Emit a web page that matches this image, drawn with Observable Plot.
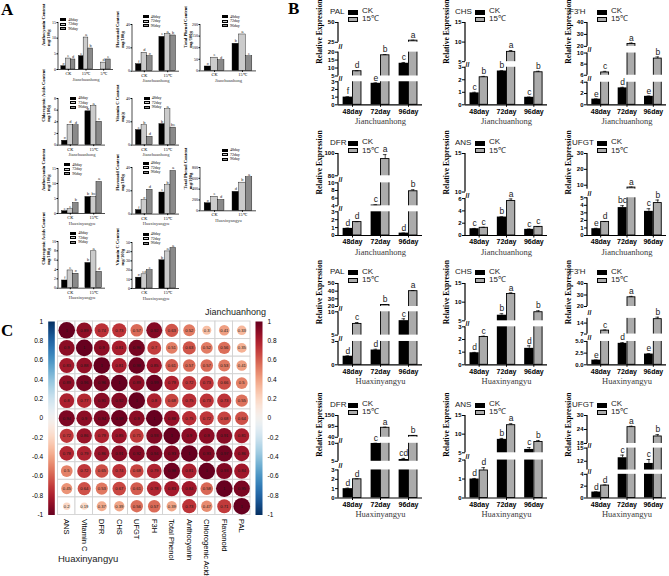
<!DOCTYPE html>
<html><head><meta charset="utf-8">
<script src="https://cdn.jsdelivr.net/npm/d3@7"></script>
<script src="https://cdn.jsdelivr.net/npm/@observablehq/plot@0.6"></script>
<style>
body{margin:0;background:#fff;}
#root{position:relative;width:669px;height:576px;overflow:hidden;background:#fff;font-family:Arial,"Liberation Sans",sans-serif;}
#root svg{position:absolute;}
.t{position:absolute;white-space:nowrap;line-height:1;}
</style></head><body><div id="root"></div>
<script>
const SANS = "Arial, 'Liberation Sans', Helvetica, sans-serif";
const SERIF = "'Times New Roman', 'Liberation Serif', serif";
const NARROW = "'Liberation Sans Narrow', 'Arial Narrow', Arial, 'Liberation Sans', sans-serif";

// ================= DATA =================
const days = ["48day", "72day", "96day"];
const treatments = ["CK", "15℃"];

// ---- Panel B: relative expression (CK, 15℃) ----
const PAL_J_CK = [1.0, 2.8, 13.0],  PAL_J_15 = [8.0, 18.0, 27.0];
const PAL_J_CKE = [0.05, 0.06, 0.5], PAL_J_15E = [0.3, 0.5, 0.6];
const PAL_J_CKL = ["f", "e", "c"],  PAL_J_15L = ["d", "b", "a"];

const CHS_J_CK = [0.95, 2.7, 0.6],  CHS_J_15 = [2.2, 7.5, 2.6];
const CHS_J_CKE = [0.05, 0.03, 0.02], CHS_J_15E = [0.07, 0.35, 0.08];
const CHS_J_CKL = ["c", "b", "c"],  CHS_J_15L = ["b", "a", "b"];

const F3H_J_CK = [1.0, 3.0, 1.5],   F3H_J_15 = [6.5, 22, 9.0];
const F3H_J_CKE = [0.05, 0.1, 0.05], F3H_J_15E = [0.2, 0.8, 0.3];
const F3H_J_CKL = ["e", "d", "e"],  F3H_J_15L = ["c", "a", "b"];

const DFR_J_CK = [0.9, 4.2, 0.3],   DFR_J_15 = [1.7, 95, 7.8];
const DFR_J_CKE = [0.03, 0.1, 0.02], DFR_J_15E = [0.05, 4, 0.4];
const DFR_J_CKL = ["d", "c", "d"],  DFR_J_15L = ["d", "a", "b"];

const ANS_J_CK = [1.1, 3.0, 1.0],   ANS_J_15 = [1.25, 5.6, 1.4];
const ANS_J_CKE = [0.05, 0.05, 0.05], ANS_J_15E = [0.08, 0.35, 0.05];
const ANS_J_CKL = ["c", "b", "c"],  ANS_J_15L = ["c", "a", "c"];

const UFGT_J_CK = [0.9, 3.7, 3.2],  UFGT_J_15 = [1.8, 8.5, 4.3];
const UFGT_J_CKE = [0.05, 0.25, 0.35], UFGT_J_15E = [0.05, 0.3, 0.4];
const UFGT_J_CKL = ["e", "bc", "c"], UFGT_J_15L = ["d", "a", "b"];

const PAL_H_CK = [1.1, 1.9, 8.1],   PAL_H_15 = [7.4, 22, 40];
const PAL_H_CKE = [0.05, 0.1, 0.4], PAL_H_15E = [0.3, 0.5, 0.8];
const PAL_H_CKL = ["d", "d", "c"],  PAL_H_15L = ["c", "b", "a"];

const CHS_H_CK = [0.95, 6.5, 1.3],  CHS_H_15 = [2.2, 12.2, 7.3];
const CHS_H_CKE = [0.03, 0.4, 0.2], CHS_H_15E = [0.06, 0.3, 0.4];
const CHS_H_CKL = ["d", "b", "d"],  CHS_H_15L = ["c", "a", "b"];

const F3H_H_CK = [1.0, 4.6, 2.3],   F3H_H_15 = [9.2, 28, 16.5];
const F3H_H_CKE = [0.05, 0.15, 0.1], F3H_H_15E = [0.4, 0.8, 0.8];
const F3H_H_CKL = ["e", "d", "e"],  F3H_H_15L = ["c", "a", "b"];

const DFR_H_CK = [1.0, 10, 5.5],    DFR_H_15 = [2.0, 88, 47];
const DFR_H_CKE = [0.05, 0.3, 0.3], DFR_H_15E = [0.05, 3, 2];
const DFR_H_CKL = ["d", "c", "cd"], DFR_H_15L = ["d", "a", "b"];

const ANS_H_CK = [1.0, 8.6, 5.9],   ANS_H_15 = [1.45, 12.4, 7.9];
const ANS_H_CKE = [0.03, 0.25, 0.5], ANS_H_15E = [0.15, 0.4, 0.4];
const ANS_H_CKL = ["d", "b", "c"],  ANS_H_15L = ["d", "a", "b"];

const UFGT_H_CK = [1.0, 12.8, 11.5], UFGT_H_15 = [2.1, 25, 21];
const UFGT_H_CKE = [0.05, 0.6, 0.9], UFGT_H_15E = [0.1, 0.4, 0.8];
const UFGT_H_CKL = ["d", "c", "c"],  UFGT_H_15L = ["d", "a", "b"];

// broken-axis segments and tick labels
const PAL_J_SEGS = [[0, 3], [5, 20], [25, 50]],   PAL_J_TICKS = [0, 1, 2, 3, 5, 10, 15, 20, 25, 50];
const CHS_J_SEGS = [[0, 3], [5, 15]],             CHS_J_TICKS = [0, 1, 2, 3, 5, 10, 15];
const F3H_J_SEGS = [[0, 4], [6, 10], [20, 40]],   F3H_J_TICKS = [0, 2, 4, 6, 8, 10, 20, 30, 40];
const DFR_J_SEGS = [[0, 3], [4, 10], [80, 100]],  DFR_J_TICKS = [0, 1, 2, 3, 4, 6, 8, 10, 80, 100];
const ANS_J_SEGS = [[0, 6], [10, 15]],            ANS_J_TICKS = [0, 2, 4, 6, 10, 15];
const UFGT_J_SEGS = [[0, 5], [7.5, 30]],          UFGT_J_TICKS = [0, 1, 2, 3, 4, 5, 10, 20, 30];
const PAL_H_SEGS = [[0, 3], [5, 10], [20, 50]],   PAL_H_TICKS = [0, 3, 5, 10, 20, 30, 40, 50];
const CHS_H_SEGS = [[0, 3], [5, 15]],             CHS_H_TICKS = [0, 1, 2, 3, 5, 10, 15];
const F3H_H_SEGS = [[0, 5], [7, 17], [20, 40]],   F3H_H_TICKS = [0, 2.5, 5, 7, 14, 20, 30, 40];
const DFR_H_SEGS = [[0, 3], [5, 10], [40, 150]],  DFR_H_TICKS = [0, 1, 2, 3, 5, 10, 40, 95, 150];
const ANS_H_SEGS = [[0, 2], [5, 15]],             ANS_H_TICKS = [0, 1, 2, 5, 10, 15];
const UFGT_H_SEGS = [[0, 4], [10, 15], [18, 30]], UFGT_H_TICKS = [0, 2, 4, 12, 15, 18, 24, 30];

// ---- Panel A: contents (groups x 48/72/96 day) ----
const A_ANTH_J = {groups: ["CK", "15℃", "5℃"], d48: [1.05, 4.25, 0], d72: [3.5, 10.2, 2.2], d96: [3.2, 6.7, 3.2],
  l48: ["e", "c", ""], l72: ["c", "a", "d"], l96: ["d", "b", "c"]};
const A_FLAV_J = {groups: ["CK", "15℃"], d48: [6, 29.4], d72: [15.7, 31.8], d96: [12.9, 30.6],
  l48: ["f", "c"], l72: ["d", "a"], l96: ["e", "b"]};
const A_PHEN_J = {groups: ["CK", "15℃"], d48: [19, 117], d72: [57, 157], d96: [46, 63],
  l48: ["e", "b"], l72: ["c", "a"], l96: ["d", "c"]};
const A_CHLO_J = {groups: ["CK", "15℃"], d48: [0.75, 5.8], d72: [3.45, 6.7], d96: [3.4, 4.0],
  l48: ["e", "b"], l72: ["d", "a"], l96: ["d", "c"]};
const A_VITC_J = {groups: ["CK", "15℃"], d48: [12.9, 18], d72: [17, 30.8], d96: [7.1, 15],
  l48: ["c", "b"], l72: ["b", "a"], l96: ["d", "bc"]};
const A_ANTH_H = {groups: ["CK", "15℃"], d48: [0.77, 5.5], d72: [1.43, 5.5], d96: [3.5, 10.5],
  l48: ["c", "b"], l72: ["c", "bc"], l96: ["b", "a"]};
const A_FLAV_H = {groups: ["CK", "15℃"], d48: [3.4, 18.5], d72: [12, 24.8], d96: [20.8, 37],
  l48: ["f", "c"], l72: ["e", "b"], l96: ["d", "a"]};
const A_PHEN_H = {groups: ["CK", "15℃"], d48: [140, 350], d72: [260, 520], d96: [200, 620],
  l48: ["e", "d"], l72: ["c", "b"], l96: ["d", "a"]};
const A_CHLO_H = {groups: ["CK", "15℃"], d48: [1.65, 5.4], d72: [3.8, 7.9], d96: [3.1, 3.5],
  l48: ["f", "b"], l72: ["c", "a"], l96: ["e", "d"]};
const A_VITC_H = {groups: ["CK", "15℃"], d48: [11.8, 30.7], d72: [15.4, 40.3], d96: [20, 44],
  l48: ["e", "b"], l72: ["cd", "a"], l96: ["c", "a"]};

// ---- Panel C: correlations ----
const C_VARS = ["ANS", "Vitamin C", "DFR", "CHS", "UFGT", "F3H", "Total Phenol", "Anthocyanin", "Chlorogenic Acids", "Flavonoid", "PAL"];
const CORR_1 = [1, 0.89, 0.74, 0.73, 0.57, 0.92, 0.63, 0.52, 0.3, 0.41, 0.33];
const CORR_2 = [0.9, 1, 0.9, 0.81, 0.96, 0.7, 0.51, 0.63, 0.52, 0.56, 0.35];
const CORR_3 = [0.83, 0.88, 1, 0.81, 0.98, 0.85, 0.61, 0.57, 0.57, 0.53, 0.41];
const CORR_4 = [0.89, 0.96, 0.96, 1, 0.89, 0.99, 0.79, 0.72, 0.73, 0.66, 0.5];
const CORR_5 = [0.8, 0.77, 0.91, 0.92, 1, 0.8, 0.68, 0.75, 0.73, 0.73, 0.55];
const CORR_6 = [0.94, 0.9, 0.94, 0.98, 0.9, 1, 0.88, 0.75, 0.72, 0.68, 0.64];
const CORR_7 = [0.72, 0.86, 0.79, 0.85, 0.71, 0.93, 1, 0.9, 0.9, 0.91, 0.81];
const CORR_8 = [0.78, 0.79, 0.86, 0.91, 0.92, 0.94, 0.93, 1, 0.93, 0.97, 0.86];
const CORR_9 = [0.5, 0.72, 0.65, 0.74, 0.68, 0.79, 0.98, 0.81, 1, 0.93, 0.84];
const CORR_10 = [0.45, 0.64, 0.53, 0.67, 0.61, 0.78, 0.83, 0.84, 0.58, 1, 0.95];
const CORR_11 = [0.2, 0.19, 0.37, 0.39, 0.56, 0.57, 0.39, 0.73, 0.47, 0.71, 1];
const CB_TICKS = [1, 0.8, 0.6, 0.4, 0.2, 0, -0.2, -0.4, -0.6, -0.8, -1];

// ================= LAYOUT HELPERS =================
const root = document.getElementById("root");
function put(svg, left, top) { svg.style.left = left + "px"; svg.style.top = top + "px"; root.appendChild(svg); return svg; }
function txt(s, left, top, css) {
  const d = document.createElement("div"); d.className = "t"; d.textContent = s;
  d.style.left = left + "px"; d.style.top = top + "px"; Object.assign(d.style, css || {}); root.appendChild(d); return d;
}
function box(left, top, w, h, css) {
  const d = document.createElement("div"); d.style.position = "absolute";
  Object.assign(d.style, {left: left + "px", top: top + "px", width: w + "px", height: h + "px", boxSizing: "border-box"}, css || {});
  root.appendChild(d); return d;
}
const BASESTYLE = {background: "transparent", overflow: "visible", fontFamily: SANS};

// ================= PANEL B =================
const B_COLS = [{left: 313, width: 112, gx: -8}, {left: 440, width: 110, gx: -10}, {left: 562, width: 107, gx: -18}];
const B_ROWS = [{top: 22, base: 104.3}, {top: 153.3, base: 235.3}, {top: 282.7, base: 364}, {top: 415, base: 497.5}];
const B_FRACS = {
  PAL_J: [[0, 0.28], [0.35, 0.64], [0.76, 1]], CHS_J: [[0, 0.456], [0.524, 1]], F3H_J: [[0, 0.274], [0.359, 0.629], [0.71, 1]],
  DFR_J: [[0, 0.289], [0.362, 0.642], [0.728, 1]], ANS_J: [[0, 0.45], [0.53, 1]], UFGT_J: [[0, 0.46], [0.565, 1]],
  PAL_H: [[0, 0.287], [0.365, 0.652], [0.717, 1]], CHS_H: [[0, 0.467], [0.541, 1]], F3H_H: [[0, 0.287], [0.378, 0.571], [0.717, 1]],
  DFR_H: [[0, 0.34], [0.445, 0.663], [0.736, 1]], ANS_H: [[0, 0.46], [0.548, 1]], UFGT_H: [[0, 0.287], [0.339, 0.605], [0.661, 1]]
};

function bChart(g, col, row) {
  const C = B_COLS[col], R = B_ROWS[row];
  const mt = 22, mb = 34, ml = 25, mr = 3;
  const plotH = R.base - R.top;
  const width = C.width, height = mt + plotH + mb;
  const plotW = width - ml - mr;
  const pi = 0.33, po = 0.165;
  const step = plotW / (days.length - pi + 2 * po);
  const bw = step * (1 - pi), q = bw / 4;
  const domain = g.segs.flat();
  const range = g.fracs.flat().map(f => mt + (1 - f) * plotH);
  const gaps = g.segs.slice(1).map((s, i) => [g.segs[i][1], s[0]]);
  const ck = days.map((d, i) => ({day: d, v: g.ck[i], e: g.ckE[i], L: g.ckL[i]}));
  const hot = days.map((d, i) => ({day: d, v: g.t15[i], e: g.t15E[i], L: g.t15L[i]}));
  const ymax = domain[domain.length - 1];
  const svg = Plot.plot({
    width, height, marginTop: mt, marginBottom: mb, marginLeft: ml, marginRight: mr,
    style: BASESTYLE,
    x: {type: "band", domain: days, paddingInner: pi, paddingOuter: po, round: false, label: null},
    y: {type: "linear", domain, range, label: null},
    marks: [
      Plot.rect([ymax], {y1: () => 0, y2: d => d, fill: "black", insetLeft: -0.6, insetRight: plotW - 0.6}),
      Plot.barY(ck, {x: "day", y: "v", fill: "black", insetRight: bw / 2}),
      Plot.barY(hot, {x: "day", y: "v", fill: "#ababab", stroke: "black", strokeWidth: 0.9, insetLeft: bw / 2 + 0.5, insetRight: 0.4}),
      Plot.rect(gaps, {y1: d => d[0], y2: d => d[1], fill: "white", insetLeft: -4}),
      Plot.ruleX(ck, {x: "day", y1: "v", y2: d => d.v + d.e, dx: -q, strokeWidth: 0.7}),
      Plot.ruleX(hot, {x: "day", y1: "v", y2: d => d.v + d.e, dx: q, strokeWidth: 0.7}),
      Plot.tickY(ck, {x: "day", y: d => d.v + d.e, insetLeft: q - 1.8, insetRight: 3 * q - 1.8, strokeWidth: 0.7}),
      Plot.tickY(hot, {x: "day", y: d => d.v + d.e, insetLeft: 3 * q - 1.8, insetRight: q - 1.8, strokeWidth: 0.7}),
      Plot.text(ck, {x: "day", y: d => d.v + d.e, text: "L", dx: -q, dy: -5, fontSize: 8.5, fill: "#222"}),
      Plot.text(hot, {x: "day", y: d => d.v + d.e, text: "L", dx: q, dy: -5, fontSize: 8.5, fill: "#222"}),
      Plot.ruleY([0], {strokeWidth: 1.2}),
      Plot.axisY({ticks: g.ticks, tickFormat: g.fmt || (d => String(d)), tickSize: 3, tickPadding: 1, fontSize: 6, fontWeight: "bold", label: null}),
      Plot.axisX({tickSize: 2.5, tickPadding: 1.5, fontSize: 7, fontWeight: "bold", label: null}),
      Plot.text(gaps, {y: d => (d[0] + d[1]) / 2, frameAnchor: "left", text: () => "//", fontSize: 7, fontWeight: "bold", fill: "black"}),
      Plot.text([g.title], {frameAnchor: "bottom", dy: 19, text: d => d, fontFamily: SERIF, fontSize: 8.5, fill: "#3a3a3a"}),
      Plot.text(["Relative Expression"], {frameAnchor: "left", rotate: -90, dx: -18.5, text: d => d, fontFamily: SERIF, fontWeight: "bold", fontSize: 7.6})
    ]
  });
  put(svg, C.left, R.top - mt);
  // legend
  const ax = C.left + ml;
  txt(g.gene, ax + (g.gx ?? C.gx), R.top - 14.5, {fontSize: "8px", color: "#222"});
  box(ax + 10, R.top - 12.5, 10, 5, {background: "black"});
  txt(treatments[0], ax + 24, R.top - 15, {fontSize: "8px", color: "#222"});
  box(ax + 10, R.top - 5, 10, 5, {background: "#ababab", border: "1px solid black"});
  txt(treatments[1], ax + 24, R.top - 6.8, {fontSize: "8px", color: "#222"});
}

const genes = [
  [{gene: "PAL", title: "Jianchuanhong", ck: PAL_J_CK, t15: PAL_J_15, ckE: PAL_J_CKE, t15E: PAL_J_15E, ckL: PAL_J_CKL, t15L: PAL_J_15L, segs: PAL_J_SEGS, ticks: PAL_J_TICKS, fracs: B_FRACS.PAL_J},
   {gene: "CHS", title: "Jianchuanhong", ck: CHS_J_CK, t15: CHS_J_15, ckE: CHS_J_CKE, t15E: CHS_J_15E, ckL: CHS_J_CKL, t15L: CHS_J_15L, segs: CHS_J_SEGS, ticks: CHS_J_TICKS, fracs: B_FRACS.CHS_J},
   {gene: "F3'H", title: "Jianchuanhong", ck: F3H_J_CK, t15: F3H_J_15, ckE: F3H_J_CKE, t15E: F3H_J_15E, ckL: F3H_J_CKL, t15L: F3H_J_15L, segs: F3H_J_SEGS, ticks: F3H_J_TICKS, fracs: B_FRACS.F3H_J}],
  [{gene: "DFR", title: "Jianchuanhong", ck: DFR_J_CK, t15: DFR_J_15, ckE: DFR_J_CKE, t15E: DFR_J_15E, ckL: DFR_J_CKL, t15L: DFR_J_15L, segs: DFR_J_SEGS, ticks: DFR_J_TICKS, fracs: B_FRACS.DFR_J},
   {gene: "ANS", title: "Jianchuanhong", ck: ANS_J_CK, t15: ANS_J_15, ckE: ANS_J_CKE, t15E: ANS_J_15E, ckL: ANS_J_CKL, t15L: ANS_J_15L, segs: ANS_J_SEGS, ticks: ANS_J_TICKS, fracs: B_FRACS.ANS_J},
   {gene: "UFGT", gx: -15, title: "Jianchuanhong", ck: UFGT_J_CK, t15: UFGT_J_15, ckE: UFGT_J_CKE, t15E: UFGT_J_15E, ckL: UFGT_J_CKL, t15L: UFGT_J_15L, segs: UFGT_J_SEGS, ticks: UFGT_J_TICKS, fracs: B_FRACS.UFGT_J}],
  [{gene: "PAL", title: "Huaxinyangyu", ck: PAL_H_CK, t15: PAL_H_15, ckE: PAL_H_CKE, t15E: PAL_H_15E, ckL: PAL_H_CKL, t15L: PAL_H_15L, segs: PAL_H_SEGS, ticks: PAL_H_TICKS, fracs: B_FRACS.PAL_H},
   {gene: "CHS", title: "Huaxinyangyu", ck: CHS_H_CK, t15: CHS_H_15, ckE: CHS_H_CKE, t15E: CHS_H_15E, ckL: CHS_H_CKL, t15L: CHS_H_15L, segs: CHS_H_SEGS, ticks: CHS_H_TICKS, fracs: B_FRACS.CHS_H},
   {gene: "F3'H", title: "Huaxinyangyu", ck: F3H_H_CK, t15: F3H_H_15, ckE: F3H_H_CKE, t15E: F3H_H_15E, ckL: F3H_H_CKL, t15L: F3H_H_15L, segs: F3H_H_SEGS, ticks: F3H_H_TICKS, fracs: B_FRACS.F3H_H,
    fmt: d => (d < 7 ? d3.format(".1f")(d) : String(d))}],
  [{gene: "DFR", title: "Huaxinyangyu", ck: DFR_H_CK, t15: DFR_H_15, ckE: DFR_H_CKE, t15E: DFR_H_15E, ckL: DFR_H_CKL, t15L: DFR_H_15L, segs: DFR_H_SEGS, ticks: DFR_H_TICKS, fracs: B_FRACS.DFR_H},
   {gene: "ANS", title: "Huaxinyangyu", ck: ANS_H_CK, t15: ANS_H_15, ckE: ANS_H_CKE, t15E: ANS_H_15E, ckL: ANS_H_CKL, t15L: ANS_H_15L, segs: ANS_H_SEGS, ticks: ANS_H_TICKS, fracs: B_FRACS.ANS_H},
   {gene: "UFGT", gx: -15, title: "Huaxinyangyu", ck: UFGT_H_CK, t15: UFGT_H_15, ckE: UFGT_H_CKE, t15E: UFGT_H_15E, ckL: UFGT_H_CKL, t15L: UFGT_H_15L, segs: UFGT_H_SEGS, ticks: UFGT_H_TICKS, fracs: B_FRACS.UFGT_H}]
];
genes.forEach((r, ri) => r.forEach((g, ci) => bChart(g, ci, ri)));

// ================= PANEL A =================
function aChart(a, cfg) {
  const mt = 6, mb = 16, ml = 24, mr = 2;
  const plotH = cfg.base - cfg.top, plotW = cfg.W;
  const width = ml + plotW + mr, height = mt + plotH + mb;
  const n = a.groups.length;
  const pi = cfg.pi ?? 0.29, po = cfg.po ?? 0.15;
  const step = plotW / (n - pi + 2 * po), bw = step * (1 - pi), third = bw / 3;
  const ymax = cfg.ticks[cfg.ticks.length - 1];
  const series = [{vals: a.d48, L: a.l48, fill: "black"}, {vals: a.d72, L: a.l72, fill: "#cbcbcb"}, {vals: a.d96, L: a.l96, fill: "#8a8a8a"}];
  const marks = [Plot.rect([ymax], {y1: () => 0, y2: d => d, fill: "black", insetLeft: -0.35, insetRight: plotW - 0.35})];
  series.forEach((s, k) => {
    const rows = a.groups.map((g, i) => ({g, v: s.vals[i], L: s.L[i]}));
    marks.push(Plot.barY(rows, {x: "g", y: "v", fill: s.fill, stroke: "black", strokeWidth: 0.4, insetLeft: k * third, insetRight: (2 - k) * third}));
    marks.push(Plot.text(rows, {x: "g", y: "v", text: "L", dx: (k - 1) * third, dy: -2.8, fontSize: 4, fill: "#333"}));
  });
  marks.push(
    Plot.ruleY([0], {strokeWidth: 0.7}),
    Plot.axisY({ticks: cfg.ticks, tickFormat: d => String(d), tickSize: 1.5, tickPadding: 1, fontSize: 4, fontFamily: SERIF, label: null}),
    Plot.axisX({tickSize: 1.5, tickPadding: 1, fontSize: 4.3, fontFamily: SERIF, label: null}),
    Plot.text([cfg.title], {frameAnchor: "bottom", dy: 11, text: d => d, fontFamily: SERIF, fontSize: 4.5, fill: "#333"}),
    Plot.text([cfg.ylab[0]], {frameAnchor: "left", rotate: -90, dx: -15, text: d => d, fontFamily: SERIF, fontWeight: "bold", fontSize: 4.6}),
    Plot.text([cfg.ylab[1]], {frameAnchor: "left", rotate: -90, dx: -10, text: d => d, fontFamily: SERIF, fontWeight: "bold", fontSize: 4.6})
  );
  const svg = Plot.plot({
    width, height, marginTop: mt, marginBottom: mb, marginLeft: ml, marginRight: mr, style: BASESTYLE,
    x: {type: "band", domain: a.groups, paddingInner: pi, paddingOuter: po, round: false, label: null},
    y: {domain: [0, ymax], label: null}, marks
  });
  put(svg, cfg.x0 - ml, cfg.top - mt);
  const lx = cfg.x0 + cfg.leg[0], ly = cfg.top + cfg.leg[1];
  const fills = ["black", "#cbcbcb", "#8a8a8a"];
  days.forEach((d, k) => {
    box(lx, ly + k * 4.4, 6, 3, {background: fills[k], border: "0.4px solid black"});
    txt(d, lx + 8, ly + k * 4.4 - 0.6, {fontSize: "4px", fontFamily: SERIF});
  });
}
const J = "Jianchuanhong", Hx = "Huaxinyangyu";
aChart(A_ANTH_J, {x0: 58.3, top: 22.3, base: 69.3, W: 55, pi: 0.2, po: 0.16, ticks: [0, 5, 10, 15], ylab: ["Anthocyanin Content", "mg/100g"], title: J, leg: [2, -4]});
aChart(A_FLAV_J, {x0: 131.7, top: 24.3, base: 71, W: 47, ticks: [0, 20, 40], ylab: ["Flavonoid Content", "mg/100g"], title: J, leg: [11, -9]});
aChart(A_PHEN_J, {x0: 200, top: 24.3, base: 70.7, W: 56, ticks: [0, 50, 100, 150, 200], ylab: ["Total Phenol Content", "mg/100g"], title: J, leg: [22, -9]});
aChart(A_CHLO_J, {x0: 58.3, top: 97.7, base: 144.3, W: 47, ticks: [0, 2, 4, 6, 8], ylab: ["Chlorogenic Acids Content", "mg/100g"], title: J, leg: [12, -1]});
aChart(A_VITC_J, {x0: 131.7, top: 97.7, base: 144.3, W: 47, ticks: [0, 20, 40], ylab: ["Vitamin C Content", "mg/g"], title: J, leg: [12, -1]});
aChart(A_ANTH_H, {x0: 58.3, top: 168.3, base: 213.3, W: 47, ticks: [0, 5, 10, 15], ylab: ["Anthocyanin Content", "mg/100g"], title: Hx, leg: [6, -5]});
aChart(A_FLAV_H, {x0: 131.7, top: 166.7, base: 213.3, W: 47, ticks: [0, 20, 40], ylab: ["Flavonoid Content", "mg/100g"], title: Hx, leg: [11, -5]});
aChart(A_PHEN_H, {x0: 200, top: 166.7, base: 210, W: 56, ticks: [0, 200, 400, 600, 800], ylab: ["Total Phenol Content", "mg/100g"], title: Hx, leg: [22, -18]});
aChart(A_CHLO_H, {x0: 58.3, top: 241, base: 287.7, W: 47, ticks: [0, 2, 4, 6, 8, 10], ylab: ["Chlorogenic Acids Content", "mg/100g"], title: Hx, leg: [12, -9]});
aChart(A_VITC_H, {x0: 131.7, top: 241.7, base: 287.7, W: 47, ticks: [0, 10, 20, 30, 40, 50], ylab: ["Vitamin C Content", "mg/100g"], title: Hx, leg: [11, -9]});

// ================= PANEL C =================
const corrRows = [CORR_1, CORR_2, CORR_3, CORR_4, CORR_5, CORR_6, CORR_7, CORR_8, CORR_9, CORR_10, CORR_11];
const cdata = corrRows.flatMap((row, i) => row.map((v, j) => ({row: C_VARS[i], col: C_VARS[j], v})));
put(Plot.plot({
  width: 207, height: 263, marginLeft: 7.5, marginRight: 7, marginTop: 7, marginBottom: 62.5, style: BASESTYLE,
  x: {type: "band", domain: C_VARS, padding: 0, round: false, label: null},
  y: {type: "band", domain: C_VARS, padding: 0, round: false, axis: null, label: null},
  r: {type: "sqrt", domain: [0, 1], range: [0, 8.3]},
  color: {type: "linear", domain: [-1, 1], scheme: "RdBu", reverse: true},
  marks: [
    Plot.cell(cdata, {x: "col", y: "row", fill: "white", stroke: "#d2d2d2", strokeWidth: 0.9}),
    Plot.dot(cdata, {x: "col", y: "row", r: "v", fill: "v"}),
    Plot.text(cdata, {x: "col", y: "row", text: d => String(d.v), fontSize: 4.2, fill: "#1a1a1a"}),
    Plot.axisX({anchor: "bottom", tickRotate: 90, tickSize: 0, tickPadding: 4, fontSize: 7.5, fontFamily: NARROW, label: null})
  ]
}), 50, 314);

// left colour bar (Huaxinyangyu)
put(Plot.plot({
  width: 41.3, height: 205.5, marginLeft: 32.7, marginRight: 2, marginTop: 7, marginBottom: 5, style: BASESTYLE,
  x: {domain: [0, 1], axis: null}, y: {domain: [-1, 1], label: null},
  color: {type: "linear", domain: [-1, 1], scheme: "RdBu"},
  marks: [
    Plot.raster({x1: 0, x2: 1, y1: -1, y2: 1, width: 2, height: 200, fill: (x, y) => y, imageRendering: "auto"}),
    Plot.axisY({ticks: CB_TICKS, tickFormat: d => String(d), tickSize: 0, tickPadding: 5, fontSize: 6.5, label: null})
  ]
}), 15, 314);
// right colour bar (Jianchuanhong)
put(Plot.plot({
  width: 34, height: 205.5, marginLeft: 5, marginRight: 22, marginTop: 7, marginBottom: 5, style: BASESTYLE,
  x: {domain: [0, 1], axis: null}, y: {domain: [-1, 1], label: null},
  color: {type: "linear", domain: [-1, 1], scheme: "RdBu", reverse: true},
  marks: [
    Plot.raster({x1: 0, x2: 1, y1: -1, y2: 1, width: 2, height: 200, fill: (x, y) => y, imageRendering: "auto"}),
    Plot.axisY({anchor: "right", ticks: CB_TICKS, tickFormat: d => String(d), tickSize: 0, tickPadding: 5, fontSize: 6.5, label: null})
  ]
}), 250, 314);

txt("Jianchuanhong", 205, 308, {fontSize: "9px", color: "#222"});
txt("Huaxinyangyu", 58, 553.5, {fontSize: "9.5px", color: "#222"});

// ================= PANEL LABELS =================
const PL = {fontSize: "17px", fontWeight: "bold", fontFamily: SERIF};
txt("A", 1, 1, PL);
txt("B", 288, 0, PL);
txt("C", 1, 322, PL);
</script></body></html>
